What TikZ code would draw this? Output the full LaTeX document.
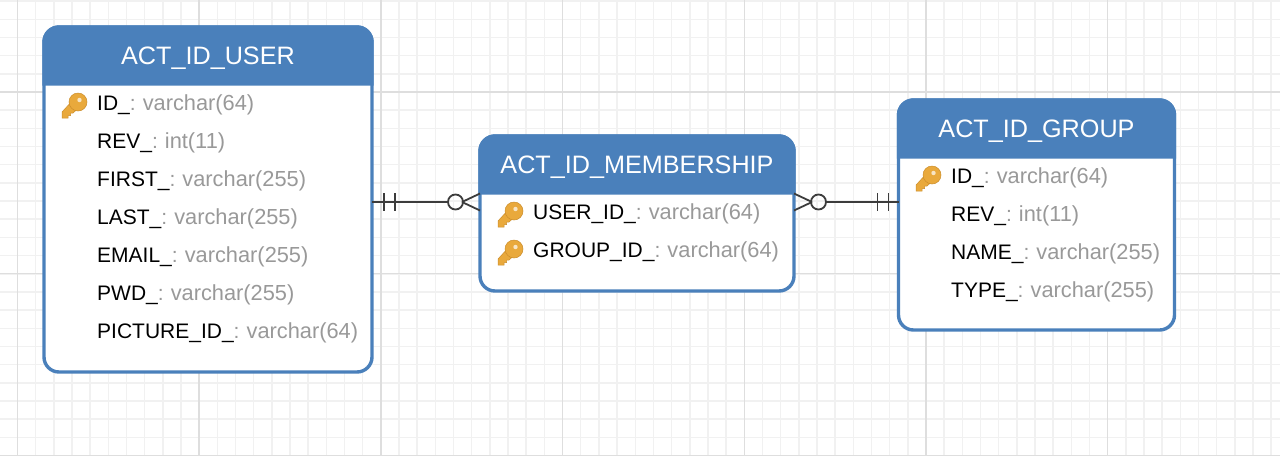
\documentclass[tikz,border=0pt]{standalone}
\usepackage{fontspec}
\setmainfont{Liberation Sans}
\usetikzlibrary{calc}
\definecolor{erblue}{HTML}{4A80BB}
\definecolor{ergrey}{HTML}{999999}
\definecolor{erline}{HTML}{3C3C3C}
\definecolor{gridmajor}{HTML}{DEDEDE}
\definecolor{gridminor}{HTML}{F1F1F1}
\definecolor{keygold}{HTML}{E9A93C}
\definecolor{keydark}{HTML}{CC8E2C}

\begin{document}
\begin{tikzpicture}[
  x=1pt, y=-1pt,
  entity/.style={draw=erblue, line width=3.4pt, fill=white, rounded corners=15pt,
                 anchor=north west, inner sep=0pt, outer sep=0pt},
  header/.style={draw=erblue, fill=erblue, line width=3.4pt},
  title/.style={text=white, anchor=base, inner sep=0pt, font=\fontsize{25.2}{30}\selectfont},
  row/.style={anchor=base west, inner sep=0pt, font=\fontsize{21}{25}\selectfont},
  link/.style={erline, line width=1.8pt},
  crowring/.style={circle, draw=erline, line width=1.8pt, minimum size=15pt, inner sep=0pt, outer sep=0pt},
  keyicon/.pic={
    \fill[keygold, draw=keydark, line width=.5pt]
      (-4,-3) -- (-16,10) -- (-16,16) -- (-10,16) -- (-10,13.5) -- (-7.5,13.5)
      -- (-7.5,11) -- (-5,11) -- (4,3) -- cycle;
    \fill[keygold, draw=keydark, line width=.5pt] (0,0) circle (9pt);
    \fill[white!70!keygold] (1.5,-2) circle (2.2pt);
  },
]

\useasboundingbox (0,0) rectangle (1280,456);
\fill[white] (0,0) rectangle (1280,456);

\newcommand\fld[2]{#1\_{\color{ergrey}:\fontsize{21.8}{25}\selectfont\hspace{-1pt} #2}}

% ---------------- background grid ------------------------------------
\foreach \k in {0,...,70}
  \draw[gridminor, line width=1.5pt] ({-0.7+18.17*\k},0) -- ++(0,456);
\foreach \k in {0,...,25}
  \draw[gridminor, line width=1.5pt] (0,{1.2+18.17*\k}) -- ++(1280,0);
\foreach \k in {0,...,6}
  \draw[gridmajor, line width=1.5pt] ({17.5+181.7*\k},0) -- ++(0,456);
\foreach \k in {0,...,2}
  \draw[gridmajor, line width=1.5pt] (0,{92+181.7*\k}) -- ++(1280,0);

% ---------------- the three tables -----------------------------------
\node[entity, minimum width=328pt, minimum height=345pt] (user) at (44,27) {};
\draw[header] ([yshift=-57pt]user.north west) [rounded corners=15pt] -- (user.north west)
  -- (user.north east) [sharp corners] -- ([yshift=-57pt]user.north east) -- cycle;
\node[title] (usertitle) at ($(user.north)+(0,37)$) {ACT\_ID\_USER};

\node[entity, minimum width=314pt, minimum height=155pt] (mship) at (480,136) {};
\draw[header] ([yshift=-57pt]mship.north west) [rounded corners=15pt] -- (mship.north west)
  -- (mship.north east) [sharp corners] -- ([yshift=-57pt]mship.north east) -- cycle;
\node[title] (mshiptitle) at ($(mship.north)+(0,37)$) {ACT\_ID\_MEMBERSHIP};

\node[entity, minimum width=276pt, minimum height=230pt] (group) at (898.5,100) {};
\draw[header] ([yshift=-57pt]group.north west) [rounded corners=15pt] -- (group.north west)
  -- (group.north east) [sharp corners] -- ([yshift=-57pt]group.north east) -- cycle;
\node[title] (grouptitle) at ($(group.north)+(0,37)$) {ACT\_ID\_GROUP};

% ---------------- rows ------------------------------------------------
\foreach \i/\f/\t in {0/ID/varchar(64), 1/REV/int(11), 2/FIRST/varchar(255),
    3/LAST/varchar(255), 4/EMAIL/varchar(255), 5/PWD/varchar(255), 6/PICTURE\_ID/varchar(64)}
  \node[row] (userrow\i) at (97,{110+38*\i}) {\fld{\f}{\t}};
\foreach \i/\f/\t in {0/USER\_ID/varchar(64), 1/GROUP\_ID/varchar(64)}
  \node[row] (mshiprow\i) at (533,{219+38*\i}) {\fld{\f}{\t}};
\foreach \i/\f/\t in {0/ID/varchar(64), 1/REV/int(11), 2/NAME/varchar(255), 3/TYPE/varchar(255)}
  \node[row] (grouprow\i) at (951,{183+38*\i}) {\fld{\f}{\t}};

\pic at (78,102) {keyicon};
\pic at (514,211) {keyicon};
\pic at (514,249) {keyicon};
\pic at (932,175) {keyicon};

% ---------------- relations -------------------------------------------
\node[crowring] (leftring) at (455.5,202) {};
\node[crowring] (rightring) at (818.5,202) {};

\draw[link] (user.east |- leftring) -- (leftring.west);
\draw[link] (group.west |- rightring) -- (rightring.east);

\draw[link] ([xshift=-1pt]leftring.east) -- ([yshift=8.5pt]mship.west |- leftring);
\draw[link] ([xshift=-1pt]leftring.east) -- ([yshift=-8.5pt]mship.west |- leftring);
\draw[link] ([xshift=1pt]rightring.west) -- ([yshift=8.5pt]mship.east |- rightring);
\draw[link] ([xshift=1pt]rightring.west) -- ([yshift=-8.5pt]mship.east |- rightring);

\foreach \d in {12,23}
  \draw[link] ([xshift=\d pt, yshift=9pt]user.east |- leftring) -- ([xshift=\d pt, yshift=-9pt]user.east |- leftring);
\foreach \d in {10,21}
  \draw[link] ([xshift=-\d pt, yshift=9pt]group.west |- rightring) -- ([xshift=-\d pt, yshift=-9pt]group.west |- rightring);

\end{tikzpicture}
\end{document}
